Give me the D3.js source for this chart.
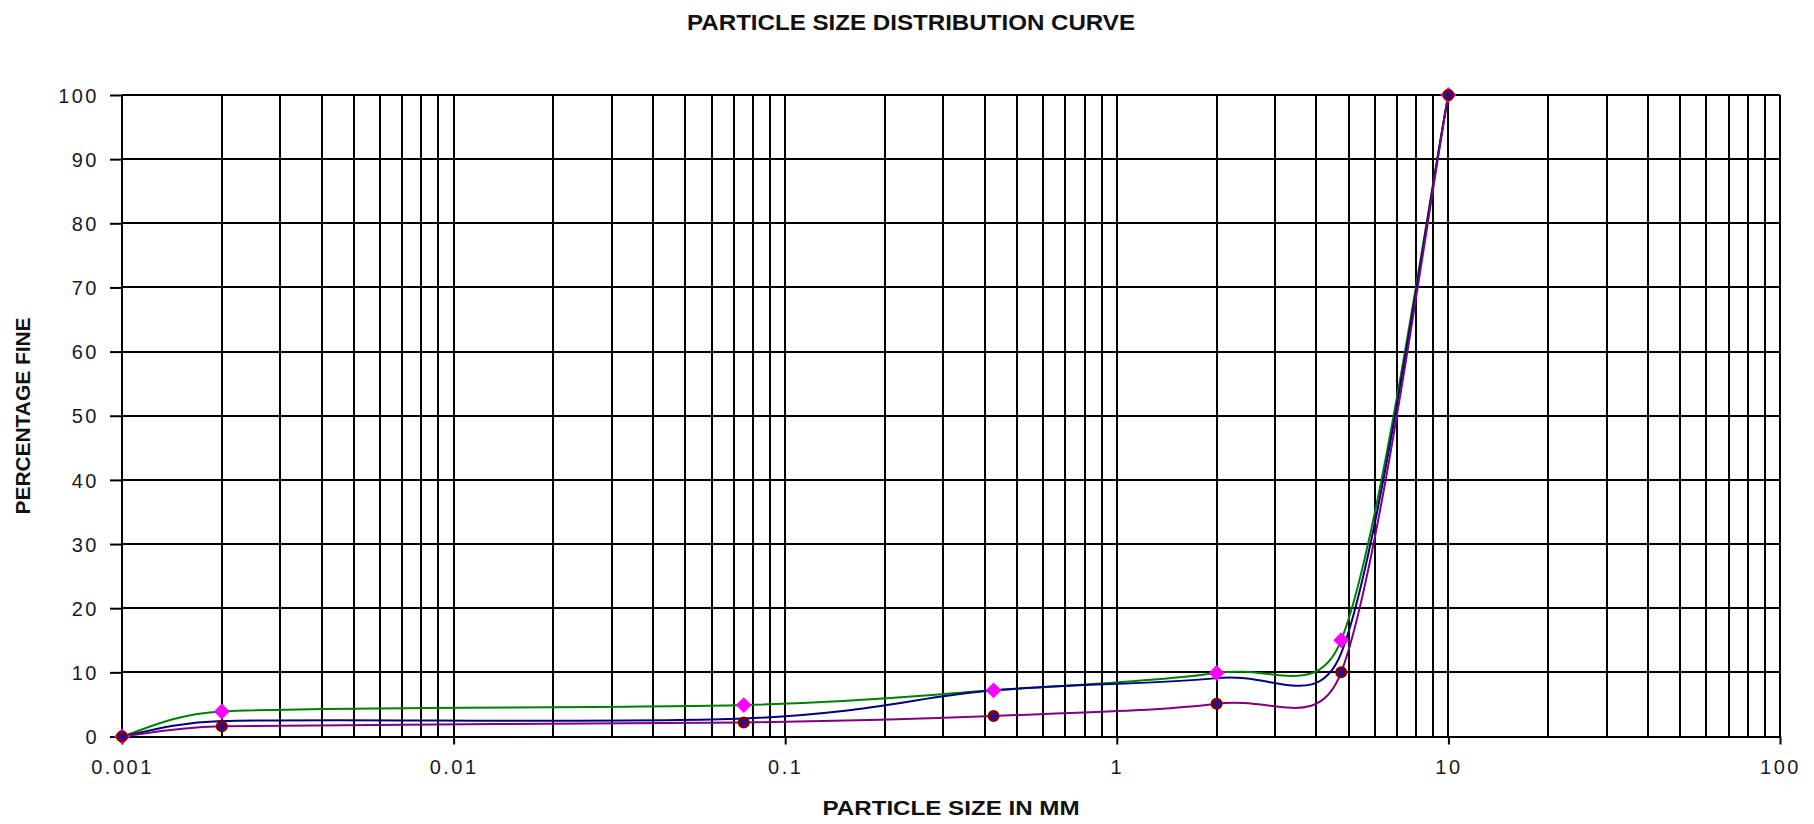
<!DOCTYPE html>
<html>
<head>
<meta charset="utf-8">
<script src="https://cdn.jsdelivr.net/npm/d3@7"></script>
<style>
  html, body { margin: 0; padding: 0; background: #fff; }
  svg { display: block; }
</style>
</head>
<body>
<svg id="chart" width="1814" height="824"></svg>
<script>
// ---- data ----
const sizes = [0.001, 0.002, 0.075, 0.425, 2, 4.75, 10];
const seriesGreen = [0, 3.9, 4.9, 7.2, 9.9, 15.0, 100];
const seriesBlue = [0, 2.4, 2.8, 7.2, 9.1, 13.0, 100];
const seriesPurple = [0, 1.6, 2.2, 3.2, 5.1, 10.0, 100];
const yTicks = [0, 10, 20, 30, 40, 50, 60, 70, 80, 90, 100];
const xTicks = [0.001, 0.01, 0.1, 1, 10, 100];
const xTickLabels = ["0.001", "0.01", "0.1", "1", "10", "100"];
const titleText = "PARTICLE SIZE DISTRIBUTION CURVE";
const xTitle = "PARTICLE SIZE IN MM";
const yTitle = "PERCENTAGE FINE";

// ---- layout ----
const L = 122, R = 1780, T = 95, B = 736.5;
const svg = d3.select("#chart");
const x = d3.scaleLog().domain([0.001, 100]).range([L, R]);
const y = d3.scaleLinear().domain([0, 100]).range([B, T]);

// minor grid values
const minorX = [];
for (let e = -3; e < 2; e++) for (let m = 1; m <= 9; m++) minorX.push(m * Math.pow(10, e));
minorX.push(100);

const grid = svg.append("g").attr("stroke", "#000").attr("stroke-width", 2).attr("shape-rendering", "crispEdges");
grid.selectAll("line.v").data(minorX).enter().append("line")
  .attr("x1", d => Math.round(x(d))).attr("x2", d => Math.round(x(d)))
  .attr("y1", T).attr("y2", B);
grid.selectAll("line.h").data(yTicks).enter().append("line")
  .attr("x1", L).attr("x2", R)
  .attr("y1", d => Math.round(y(d))).attr("y2", d => Math.round(y(d)));

// y axis
const yAxis = d3.axisLeft(y).tickValues(yTicks).tickSize(12).tickPadding(11).tickFormat(d3.format("d"));
const gy = svg.append("g").attr("transform", `translate(${L},0)`).call(yAxis);
gy.select(".domain").remove();
gy.selectAll(".tick line").attr("stroke", "#000").attr("stroke-width", 2);
gy.selectAll(".tick text")
  .attr("font-family", "'Liberation Sans', Arial, sans-serif")
  .attr("font-size", 20).attr("fill", "#1a1a1a")
  .attr("letter-spacing", "2.5px").attr("dy", "0.36em");

// x axis
const xAxis = d3.axisBottom(x).tickValues(xTicks).tickSize(8).tickPadding(15)
  .tickFormat((d, i) => xTickLabels[i]);
const gx = svg.append("g").attr("transform", `translate(0,${B})`).call(xAxis);
gx.select(".domain").remove();
gx.selectAll(".tick line").attr("stroke", "#000").attr("stroke-width", 2);
gx.selectAll(".tick text")
  .attr("font-family", "'Liberation Sans', Arial, sans-serif")
  .attr("font-size", 20).attr("fill", "#1a1a1a")
  .attr("letter-spacing", "2.5px");

// Excel-style smoothed line (Bezier, handles 1/6 of chord, capped at half segment)
function smoothPath(pts) {
  const p = d3.path();
  const dist = (a, b) => Math.hypot(b[0] - a[0], b[1] - a[1]);
  p.moveTo(pts[0][0], pts[0][1]);
  for (let i = 0; i < pts.length - 1; i++) {
    const P0 = pts[Math.max(i - 1, 0)], P1 = pts[i], P2 = pts[i + 1], P3 = pts[Math.min(i + 2, pts.length - 1)];
    const d12 = dist(P1, P2), d02 = dist(P0, P2), d13 = dist(P1, P3);
    let f = 1 / 6, g = 1 / 6;
    if (d02 / 6 > d12 / 2) f = (d12 / 2) / d02;
    if (d13 / 6 > d12 / 2) g = (d12 / 2) / d13;
    p.bezierCurveTo(
      P1[0] + f * (P2[0] - P0[0]), P1[1] + f * (P2[1] - P0[1]),
      P2[0] - g * (P3[0] - P1[0]), P2[1] - g * (P3[1] - P1[1]),
      P2[0], P2[1]);
  }
  return p.toString();
}

const series = [
  { vals: seriesGreen, color: "#008000" },
  { vals: seriesBlue, color: "#000080" },
  { vals: seriesPurple, color: "#800080" }
];
series.forEach(s => {
  const pts = sizes.map((d, i) => [x(d), y(s.vals[i])]);
  svg.append("path").attr("d", smoothPath(pts))
    .attr("fill", "none").attr("stroke", s.color).attr("stroke-width", 2);
});

// markers
const diamond = d3.symbol().type(d3.symbolDiamond2).size(160);
svg.append("g").selectAll("path").data(sizes.map((d, i) => [d, seriesGreen[i]])).enter()
  .append("path").attr("d", diamond)
  .attr("transform", d => `translate(${x(d[0])},${y(d[1])})`)
  .attr("fill", "#ff00ff");
svg.append("g").selectAll("circle").data(sizes.map((d, i) => [d, seriesPurple[i]])).enter()
  .append("circle").attr("cx", d => x(d[0])).attr("cy", d => y(d[1])).attr("r", 4.5)
  .attr("fill", "#1010c0").attr("stroke", "#800000").attr("stroke-width", 3);

// titles
svg.append("text").attr("x", 911).attr("y", 30).attr("text-anchor", "middle")
  .attr("font-family", "'Liberation Sans', Arial, sans-serif").attr("font-weight", "bold")
  .attr("font-size", 22).attr("fill", "#111")
  .attr("textLength", 448).attr("lengthAdjust", "spacingAndGlyphs")
  .text(titleText);
svg.append("text").attr("x", 951).attr("y", 815).attr("text-anchor", "middle")
  .attr("font-family", "'Liberation Sans', Arial, sans-serif").attr("font-weight", "bold")
  .attr("font-size", 21).attr("fill", "#111")
  .attr("textLength", 257).attr("lengthAdjust", "spacingAndGlyphs")
  .text(xTitle);
svg.append("text").attr("transform", "translate(30,416) rotate(-90)").attr("text-anchor", "middle")
  .attr("font-family", "'Liberation Sans', Arial, sans-serif").attr("font-weight", "bold")
  .attr("font-size", 20).attr("fill", "#111")
  .attr("textLength", 197).attr("lengthAdjust", "spacingAndGlyphs")
  .text(yTitle);
</script>
</body>
</html>
